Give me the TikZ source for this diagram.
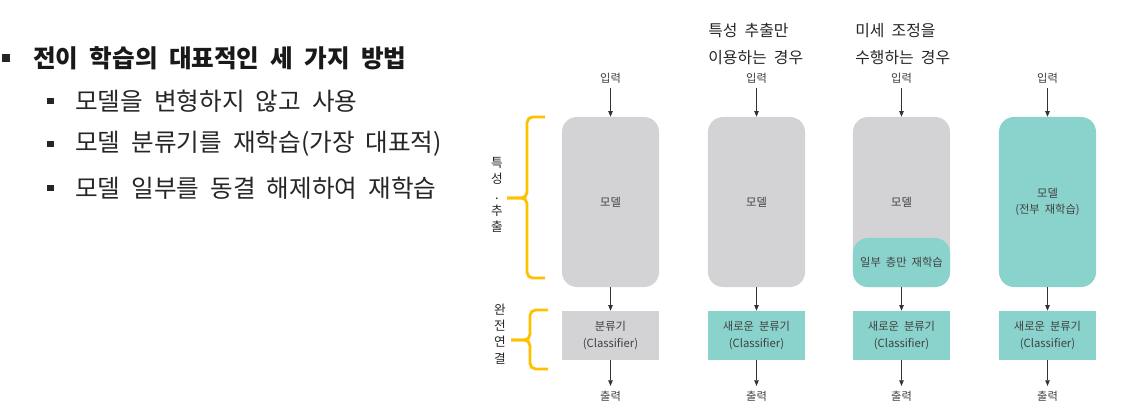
\documentclass[tikz,border=0pt]{standalone}
\usepackage{fontspec}
\setmainfont[WordSpace=2]{Noto Sans CJK KR}
\usepackage{tikz}
\usetikzlibrary{arrows.meta}

\definecolor{mdlgray}{RGB}{211,211,213}
\definecolor{tealfill}{RGB}{138,211,204}
\definecolor{bracegold}{RGB}{255,192,0}
\definecolor{lbltext}{RGB}{64,64,64}
\definecolor{bodytext}{RGB}{38,38,38}

\newcommand{\pxfont}[2]{\fontsize{#1}{#2}\selectfont}

\begin{document}
\begin{tikzpicture}[x=0.025cm, y=-0.025cm,
  every node/.style={text=lbltext, font=\pxfont{8pt}{12pt}},
  mdl/.style={rounded corners=0.375cm, fill=mdlgray, inner sep=0pt,
    minimum width=2.425cm, minimum height=4.25cm, align=center},
  part/.style={mdl, fill=tealfill, minimum height=1.225cm},
  cls/.style={fill=mdlgray, inner sep=0pt, minimum width=2.425cm,
    minimum height=1.225cm, align=center},
  newcls/.style={cls, fill=tealfill},
  flow/.style={-{Triangle[length=4pt,width=3.2pt]}, line width=0.5pt,
    draw=black!80},
  brc/.style={draw=bracegold, line width=2pt, rounded corners=4pt},
  bullet/.style={fill=bodytext, inner sep=0pt, minimum size=#1},
  item/.style={anchor=west, inner sep=0pt, text=bodytext,
    font=\pxfont{17.5pt}{20pt}},
  hdr/.style={anchor=west, inner sep=0pt, align=left, text=bodytext,
    font=\pxfont{11.3pt}{19.8pt}},
  vlbl/.style={align=center, inner sep=0pt, text=bodytext,
    font=\pxfont{9pt}{11.5pt}}]
  \useasboundingbox (0,0) rectangle (1132,414);

  % Bullet list
  \node[bullet=0.2cm] (bul0) at (6,58) {};
  \node[item, font=\pxfont{17.5pt}{20pt}\bfseries, text=black!90] (title)
    at (33,58) {전이 학습의 대표적인 세 가지 방법};
  \node[bullet=0.15cm] (bul1) at (50.5,101) {};
  \node[item] (item1) at (75,101) {모델을 변형하지 않고 사용};
  \node[bullet=0.15cm] (bul2) at (50.5,144) {};
  \node[item] (item2) at (75,144) {모델 분류기를 재학습(가장 대표적)};
  \node[bullet=0.15cm] (bul3) at (50.5,188) {};
  \node[item] (item3) at (75,188) {모델 일부를 동결 해제하여 재학습};

  % Column headers
  \node[hdr] (hdrB) at (708,44) {특성 추출만\\이용하는 경우};
  \node[hdr] (hdrC) at (855,44) {미세 조정을\\수행하는 경우};

  % Column A: model used as is
  \node (inA) at (610.5,78) {입력};
  \node[mdl] (mdlA) at (610.5,202) {모델};
  \node[cls] (clsA) at (610.5,335.5) {분류기\\(Classifier)};
  \node (outA) at (610.5,396) {출력};

  % Column B: feature extraction only
  \node (inB) at (756.5,78) {입력};
  \node[mdl] (mdlB) at (756.5,202) {모델};
  \node[newcls] (clsB) at (756.5,335.5) {새로운 분류기\\(Classifier)};
  \node (outB) at (756.5,396) {출력};

  % Column C: fine tuning of some layers
  \node (inC) at (901.5,78) {입력};
  \node[mdl] (mdlC) at (901.5,202) {모델};
  \node[part] (partC) at (901.5,262.5) {일부 층만 재학습};
  \node[newcls] (clsC) at (901.5,335.5) {새로운 분류기\\(Classifier)};
  \node (outC) at (901.5,396) {출력};

  % Column D: whole model retrained
  \node (inD) at (1047.5,78) {입력};
  \node[mdl, fill=tealfill] (mdlD) at (1047.5,202) {모델\\(전부 재학습)};
  \node[newcls] (clsD) at (1047.5,335.5) {새로운 분류기\\(Classifier)};
  \node (outD) at (1047.5,396) {출력};

  % Braces
  \draw[brc] (545,117) -- (527,117) -- (527,198) -- (507,198);
  \draw[brc] (507,198) -- (527,198) -- (527,278) -- (545,278);
  \draw[brc] (548,310) -- (530,310) -- (530,340) -- (511,340);
  \draw[brc] (511,340) -- (530,340) -- (530,369) -- (548,369);
  \node[vlbl] (featLbl) at (497,195) {특\\성\\.\\추\\출};
  \node[vlbl] (fcLbl) at (500,334) {완\\전\\연\\결};

  % Arrows
  \draw[flow] (inA) -- (mdlA);
  \draw[flow] (mdlA) -- (clsA);
  \draw[flow] (clsA) -- (outA);
  \draw[flow] (inB) -- (mdlB);
  \draw[flow] (mdlB) -- (clsB);
  \draw[flow] (clsB) -- (outB);
  \draw[flow] (inC) -- (mdlC);
  \draw[flow] (partC) -- (clsC);
  \draw[flow] (clsC) -- (outC);
  \draw[flow] (inD) -- (mdlD);
  \draw[flow] (mdlD) -- (clsD);
  \draw[flow] (clsD) -- (outD);
\end{tikzpicture}
\end{document}
